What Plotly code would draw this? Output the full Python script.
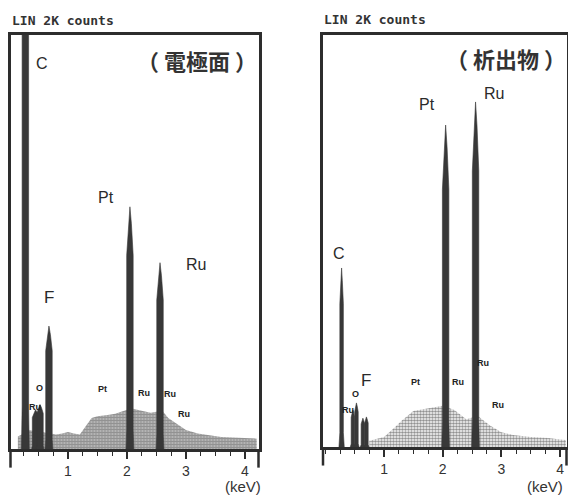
import plotly.graph_objects as go

# ---- EDS spectra: electrode surface (left) and deposit (right) ----
# Full scale is 2K counts (LIN)
FULL_SCALE = 2000

# Electrode surface: main peaks (keV, counts)
left_peak_names = ["C", "Ru", "O", "F", "Pt", "Ru"]
left_peak_kev = [0.277, 0.45, 0.525, 0.677, 2.05, 2.56]
left_peak_counts = [2600, 190, 215, 594, 1170, 900]

# Electrode surface: continuum background (keV, counts)
left_bg_kev = [0.15, 0.35, 0.6, 0.8, 0.9, 1.0, 1.1, 1.2, 1.3, 1.4, 1.5, 1.6, 1.7, 1.8, 1.9,
               2.0, 2.1, 2.2, 2.3, 2.4, 2.5, 2.6, 2.7, 2.8, 2.9, 3.0, 3.2, 3.4, 3.6,
               3.8, 4.0, 4.2]
left_bg_counts = [60, 90, 80, 70, 75, 82, 75, 70, 110, 150, 158, 160, 165, 170, 180,
                  190, 195, 188, 180, 175, 180, 185, 150, 130, 110, 92, 75, 65, 58,
                  55, 52, 50]

# Deposit: main peaks (keV, counts)
right_peak_names = ["C", "Ru", "O", "F", "F", "Pt", "Ru"]
right_peak_kev = [0.277, 0.47, 0.53, 0.64, 0.70, 2.05, 2.56]
right_peak_counts = [869, 180, 214, 140, 146, 1563, 1675]

# Deposit: continuum background (keV, counts)
right_bg_kev = [0.75, 0.8, 1.0, 1.2, 1.3, 1.5, 1.8, 2.0, 2.2, 2.4, 2.6, 2.8, 3.0,
                3.2, 3.5, 3.8, 4.0, 4.1]
right_bg_counts = [30, 34, 49, 100, 128, 175, 192, 200, 180, 135, 150, 105, 72,
                   58, 49, 44, 36, 34]

# Tick labels on the energy axis
kev_ticks = [1, 2, 3, 4]

# Peak annotations: (text, keV, counts, font size)
left_labels = [("C", 0.56, 1860, 16), ("Pt", 1.64, 1213, 16), ("Ru", 3.17, 889, 16),
               ("F", 0.68, 734, 17), ("O", 0.525, 295, 8), ("Ru", 0.44, 203, 8),
               ("Pt", 1.59, 290, 8), ("Ru", 2.29, 270, 8), ("Ru", 2.73, 266, 8),
               ("Ru", 2.97, 169, 8)]
right_labels = [("C", 0.23, 937, 16), ("Pt", 1.73, 1665, 16), ("Ru", 2.87, 1714, 16),
                ("F", 0.69, 325, 17), ("O", 0.51, 257, 8), ("Ru", 0.39, 180, 8),
                ("Pt", 1.53, 316, 8), ("Ru", 2.26, 316, 8), ("Ru", 2.69, 408, 8),
                ("Ru", 2.94, 204, 8)]

INK = "#2d2d2d"
PEAK = "#383838"
W, H = 568, 495

# peak half-widths in keV: (foot, body, tip); the low-energy lines are sharper
WIDE = (0.066, 0.055, 0.025)
NARROW = (0.045, 0.03, 0.012)

fig = go.Figure()


def add_background(kev, counts, xa, ya, solidity):
    fig.add_trace(go.Scatter(
        x=kev, y=counts, xaxis=xa, yaxis=ya, mode="lines",
        line=dict(width=0, color="rgba(0,0,0,0)"), fill="tozeroy",
        fillcolor="rgba(255,255,255,0)",
        fillpattern=dict(shape=".", size=3, solidity=solidity,
                         fgcolor="#262626", bgcolor="rgba(255,255,255,0)"),
        hoverinfo="skip", showlegend=False))


def add_peak(e, h, xa, ya, widths):
    # narrow spike: slightly flared foot, straight body, pointed tip
    half_base, half_body, half_tip = widths
    xs = [e - half_base, e - half_body, e - half_body, e - half_tip, e,
          e + half_tip, e + half_body, e + half_body, e + half_base]
    ys = [0, 0.08 * h, 0.8 * h, 0.93 * h, h, 0.93 * h, 0.8 * h, 0.08 * h, 0]
    fig.add_trace(go.Scatter(
        x=xs, y=ys, xaxis=xa, yaxis=ya, mode="lines", fill="toself",
        fillcolor=PEAK, line=dict(width=0.6, color=PEAK),
        hoverinfo="skip", showlegend=False))


add_background(left_bg_kev, left_bg_counts, "x", "y", 0.8)
for e, h in zip(left_peak_kev, left_peak_counts):
    add_peak(e, h, "x", "y", WIDE)

add_background(right_bg_kev, right_bg_counts, "x2", "y2", 0.6)
for name, e, h in zip(right_peak_names, right_peak_kev, right_peak_counts):
    add_peak(e, h, "x2", "y2", NARROW if e < 1 else WIDE)

axis_common = dict(
    showline=True, linecolor=INK, linewidth=2.5, mirror=True,
    showgrid=False, zeroline=False,
)
xaxis_common = dict(
    axis_common,
    tickmode="array", tickvals=kev_ticks, ticktext=[str(t) for t in kev_ticks],
    ticks="outside", ticklen=7, tickwidth=1.5, tickcolor=INK,
    minor=dict(dtick=0.25, tick0=0, ticks="outside", ticklen=4, tickwidth=1.2,
               tickcolor=INK),
    tickfont=dict(family="Liberation Sans", size=14, color="#333"),
)
yaxis_common = dict(axis_common, showticklabels=False, ticks="",
                    range=[0, FULL_SCALE], fixedrange=True)

fig.update_layout(
    width=W, height=H,
    margin=dict(l=0, r=0, t=0, b=0),
    paper_bgcolor="white", plot_bgcolor="white",
    showlegend=False,
    xaxis=dict(xaxis_common, domain=[10.5 / W, 258.5 / W], range=[0.025, 4.23], anchor="y"),
    yaxis=dict(yaxis_common, domain=[(H - 449) / H, (H - 35) / H], anchor="x"),
    xaxis2=dict(xaxis_common, domain=[323 / W, 566.5 / W], range=[-0.04, 4.11], anchor="y2"),
    yaxis2=dict(yaxis_common, domain=[(H - 447) / H, (H - 35) / H], anchor="x2"),
)

# side frame lines continue below the baseline
for xr, yr in (("x", "y"), ("x2", "y2")):
    for xd in (0, 1):
        fig.add_shape(type="line", xref=f"{xr} domain", yref=f"{yr} domain",
                      x0=xd, x1=xd, y0=0, y1=-0.045,
                      line=dict(color=INK, width=2.5))

annotations = []
for labels, xr, yr in ((left_labels, "x", "y"), (right_labels, "x2", "y2")):
    for text, e, c, size in labels:
        small = size < 10
        annotations.append(dict(
            text=f"<b>{text}</b>" if small else text, x=e, y=c, xref=xr, yref=yr,
            showarrow=False,
            font=dict(family="Liberation Sans", size=size + 1 if small else size,
                      color="#222" if small else "#2a2a2a"),
            xanchor="center", yanchor="middle"))

# counts-scale caption above each panel
for x0, y0 in ((10, 20), (322, 19)):
    annotations.append(dict(
        text="<b>LIN 2K counts</b>", x=x0 / W, y=1 - y0 / H, xref="paper", yref="paper",
        showarrow=False, xanchor="left", yanchor="middle",
        font=dict(family="DejaVu Sans Mono", size=13, color="#333")))

# panel titles
for text, cx, cy in (("（ 電極面 ）", 197, 60), ("（ 析出物 ）", 506, 58)):
    annotations.append(dict(
        text=f"<b>{text}</b>", x=cx / W, y=1 - cy / H, xref="paper", yref="paper",
        showarrow=False, xanchor="center", yanchor="middle",
        font=dict(family="Noto Sans CJK JP", size=22, color="#333")))

# energy unit
for cx, cy in ((243, 486), (545, 486)):
    annotations.append(dict(
        text="(keV)", x=cx / W, y=1 - cy / H, xref="paper", yref="paper",
        showarrow=False, xanchor="center", yanchor="middle",
        font=dict(family="Liberation Sans", size=15, color="#333")))

fig.update_layout(annotations=annotations)

fig.write_html("out.html")
